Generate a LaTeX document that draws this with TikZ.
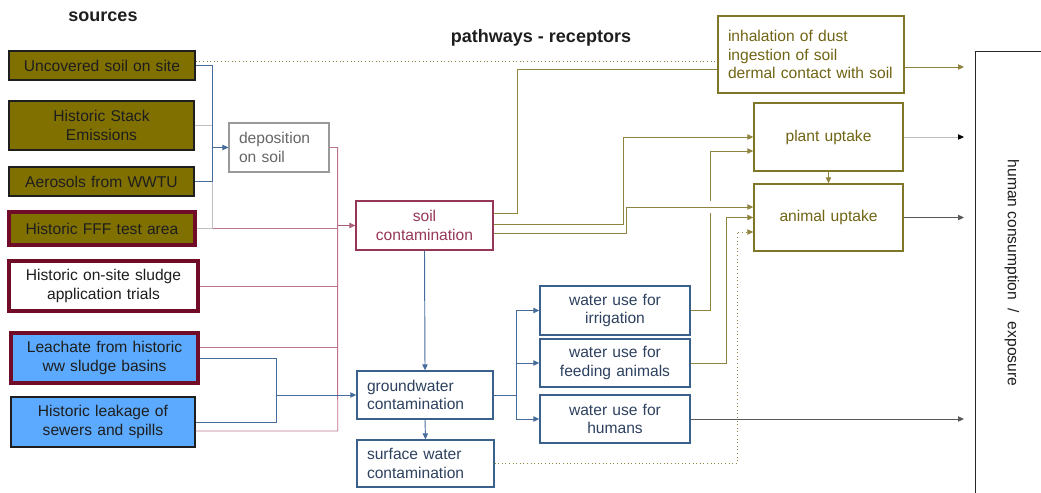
\documentclass[tikz,border=0pt]{standalone}
\usepackage{fontspec}
\setmainfont{Liberation Sans}
\usetikzlibrary{arrows.meta,calc}

\definecolor{olivefill}{RGB}{128,112,0}
\definecolor{maroonb}{RGB}{112,12,40}
\definecolor{bluefill}{RGB}{92,170,255}
\definecolor{steel}{RGB}{58,96,140}
\definecolor{steell}{RGB}{70,108,155}
\definecolor{pinkl}{RGB}{190,115,140}
\definecolor{soilc}{RGB}{150,55,85}
\definecolor{olivel}{RGB}{128,118,40}
\definecolor{olivell}{RGB}{142,132,62}
\definecolor{olivet}{RGB}{112,100,20}
\definecolor{darkt}{RGB}{30,30,30}
\definecolor{waterT}{RGB}{45,65,95}

\newcommand\bx[7]{%
  \pgfmathsetmacro\bxw{(#4-#2)*0.75-15}%
  \pgfmathsetmacro\bxh{(#5-#3)*0.75}%
  \node[#6, text width=\bxw pt, minimum height=\bxh pt] (#1) at ({(#2+#4)/2},{(#3+#5)/2}) {#7};}

\begin{document}
\begin{tikzpicture}[x=0.75pt,y=-0.75pt,
  >={Triangle[length=4.5pt,width=4pt]},
  box/.style={draw, inner xsep=7.5pt, inner ysep=1pt, font=\fontsize{11.7}{14}\selectfont, align=center},
  src/.style={box, fill=olivefill, draw=darkt, line width=1.1pt, text=darkt},
  srcr/.style={box, fill=olivefill, draw=maroonb, line width=2.6pt, text=darkt},
  whr/.style={box, fill=white, draw=maroonb, line width=2.6pt, text=darkt},
  blr/.style={box, fill=bluefill, draw=maroonb, line width=2.6pt, text=darkt},
  bld/.style={box, fill=bluefill, draw=darkt, line width=1.1pt, text=darkt},
  depst/.style={box, draw=gray!80, line width=0.8pt, text=black!60, align=left},
  soilst/.style={box, draw=soilc, line width=0.9pt, text=soilc},
  gwst/.style={box, draw=steel, line width=1pt, text=waterT, align=left},
  wst/.style={box, draw=steel, line width=1pt, text=waterT},
  inhst/.style={box, draw=olivel, line width=1pt, text=olivet, align=left},
  upst/.style={box, draw=olivel, line width=1pt, text=olivet},
  hdr/.style={font=\fontsize{13.5}{16}\selectfont\bfseries, text=darkt},
  bl/.style={draw=steell, line width=0.7pt},
  pk/.style={draw=pinkl, line width=0.7pt},
  ol/.style={draw=olivell, line width=0.7pt},
  gl/.style={draw=gray!50, line width=0.7pt},
  dk/.style={draw=black!65, line width=0.7pt},
  dt/.style={draw=olivell, line width=0.7pt, dotted}
]
\useasboundingbox (0,0) rectangle (1041,492);
\clip (0,0) rectangle (1041,492);

% headers
\node[hdr] (hsrc) at (103,17) {sources};
\node[hdr] (hpath) at (541,38) {pathways - receptors};

% source boxes
\bx{unc}{9}{51}{195}{80}{src}{Uncovered soil on site}
\bx{stk}{9}{101}{194}{150}{src}{Historic Stack\\Emissions}
\bx{aer}{9}{167}{194}{196}{src}{Aerosols from WWTU}
\bx{fff}{9}{212}{195}{245}{srcr}{Historic FFF test area}
\bx{slu}{9}{261}{198}{311}{whr}{Historic on-site sludge\\application trials}
\bx{lea}{11}{333}{198}{383}{blr}{Leachate from historic\\ww sludge basins}
\bx{lek}{11}{397}{195}{447}{bld}{Historic leakage of\\sewers and spills}

% pathway boxes
\bx{dep}{229}{123}{329}{172}{depst}{deposition\\on soil}
\bx{soil}{356}{201}{493}{250}{soilst}{soil\\contamination}
\bx{gw}{357}{371}{493}{419}{gwst}{groundwater\\contamination}
\bx{sw}{357}{440}{494}{487}{gwst}{surface water\\contamination}
\bx{irr}{540}{286}{690}{335}{wst}{water use for\\irrigation}
\bx{fed}{540}{339}{690}{387}{wst}{water use for\\feeding animals}
\bx{hum}{540}{395}{690}{443}{wst}{water use for\\humans}
\bx{inh}{718}{16}{904}{93}{inhst}{inhalation of dust\\ingestion of soil\\dermal contact with soil}
\bx{pla}{754}{103}{903}{171}{upst}{plant uptake}
\bx{ani}{754}{184}{903}{251}{upst}{animal uptake}

% human consumption box
\node[draw=black!85, line width=0.9pt, minimum width=112.5pt, minimum height=375pt, anchor=north west, inner sep=0pt] (hbox) at (975,51) {};
\node[rotate=-90, font=\fontsize{11.7}{14}\selectfont, text=darkt] (hlab) at (1012,273) {human consumption~ /~ exposure};

% ---- deposition tree
\path (dep.west) ++(-16,0) coordinate (dj);
\draw[gl] (stk.east) -- (stk.east -| dj);
\path (dep.east) ++(8,0) coordinate (pT);
\path (lek.east) ++(142,9) coordinate (pB);
\draw[pk] (fff.east) -- (fff.east -| pT);
\draw[gl] (fff.east) -| (dj);
\draw[bl] (unc.east) -| (dj);
\draw[bl] (aer.east) -| (dj);
\draw[bl,->] (dj) -- (dep.west);

% ---- pink bus to soil contamination
\draw[pk] (dep.east) -- (pT) -- (pB) -- (pB -| lek.east);
\draw[pk] (slu.east) -- (slu.east -| pT);
\path (lea.east) ++(0,-11) coordinate (leaP);
\draw[pk] (leaP) -- (leaP -| pT);
\draw[pk,->,draw=soilc!80] (soil.west -| pT) -- (soil.west);

% ---- groundwater
\path (gw.west) ++(-80,0) coordinate (gj);
\draw[bl] (lea.east) -| (gj);
\draw[bl] (lek.east) -| (gj);
\draw[bl,->] (gj) -- (gw.west);
\draw[bl,->] (soil.south) -- (gw.north);
\draw[bl,->] (gw.south) -- (sw.north);
\path (gw.east) ++(23,0) coordinate (wj);
\draw[bl] (gw.east) -- (wj);
\draw[bl,->] (wj) |- (irr.west);
\draw[bl,->] (wj) |- (fed.west);
\draw[bl,->] (wj) |- (hum.west);

% ---- soil contamination to receptors
\path (soil.east) ++(0,-12) coordinate (s1);
\path (soil.east) ++(0,-1.5) coordinate (s2);
\path (soil.east) ++(0,7.5) coordinate (s3);
\path (inh.west) ++(0,14.5) coordinate (i1);
\path (pla.west) ++(0,14) coordinate (p2);
\path (ani.west) ++(0,-10.5) coordinate (a1);
\path (ani.west) ++(0,14.5) coordinate (a3);
\coordinate (x1) at (517,0);
\coordinate (x2) at (623,0);
\coordinate (x3) at (626,0);
\coordinate (x4) at (710,0);
\coordinate (x5) at (726,0);
\coordinate (x6) at (737,0);

\draw[dt] (unc.east) ++(0,-4) coordinate (u2) -- (u2 -| inh.west);
\draw[ol] (s1) -| (i1 -| x1) -- (i1);
\draw[ol,->] (s2) -| (pla.west -| x2) -- (pla.west);
\draw[ol,->] (irr.east) -| (p2 -| x4) -- (p2);
\draw[white, line width=2.5pt] ($(a1 -| x4)+(0,-6)$) -- ($(a1 -| x4)+(0,6)$);
\draw[ol,->] (s3) -| (a1 -| x3) -- (a1);
\draw[ol,->] (fed.east) -| (ani.west -| x5) -- (ani.west);
\draw[dt,->] (sw.east) -| (a3 -| x6) -- (a3);
\draw[ol,->] (pla.south) -- (ani.north);

% ---- to human consumption
\coordinate (hx) at (964,0);
\path (inh.east) ++(0,12.5) coordinate (i2);
\draw[ol,->] (i2) -- (i2 -| hx);
\draw[gl,-{Triangle[length=4.5pt,width=4pt,color=black]}] (pla.east) -- (pla.east -| hx);
\draw[dk,->] (ani.east) -- (ani.east -| hx);
\draw[dk,->] (hum.east) -- (hum.east -| hx);
\end{tikzpicture}
\end{document}
